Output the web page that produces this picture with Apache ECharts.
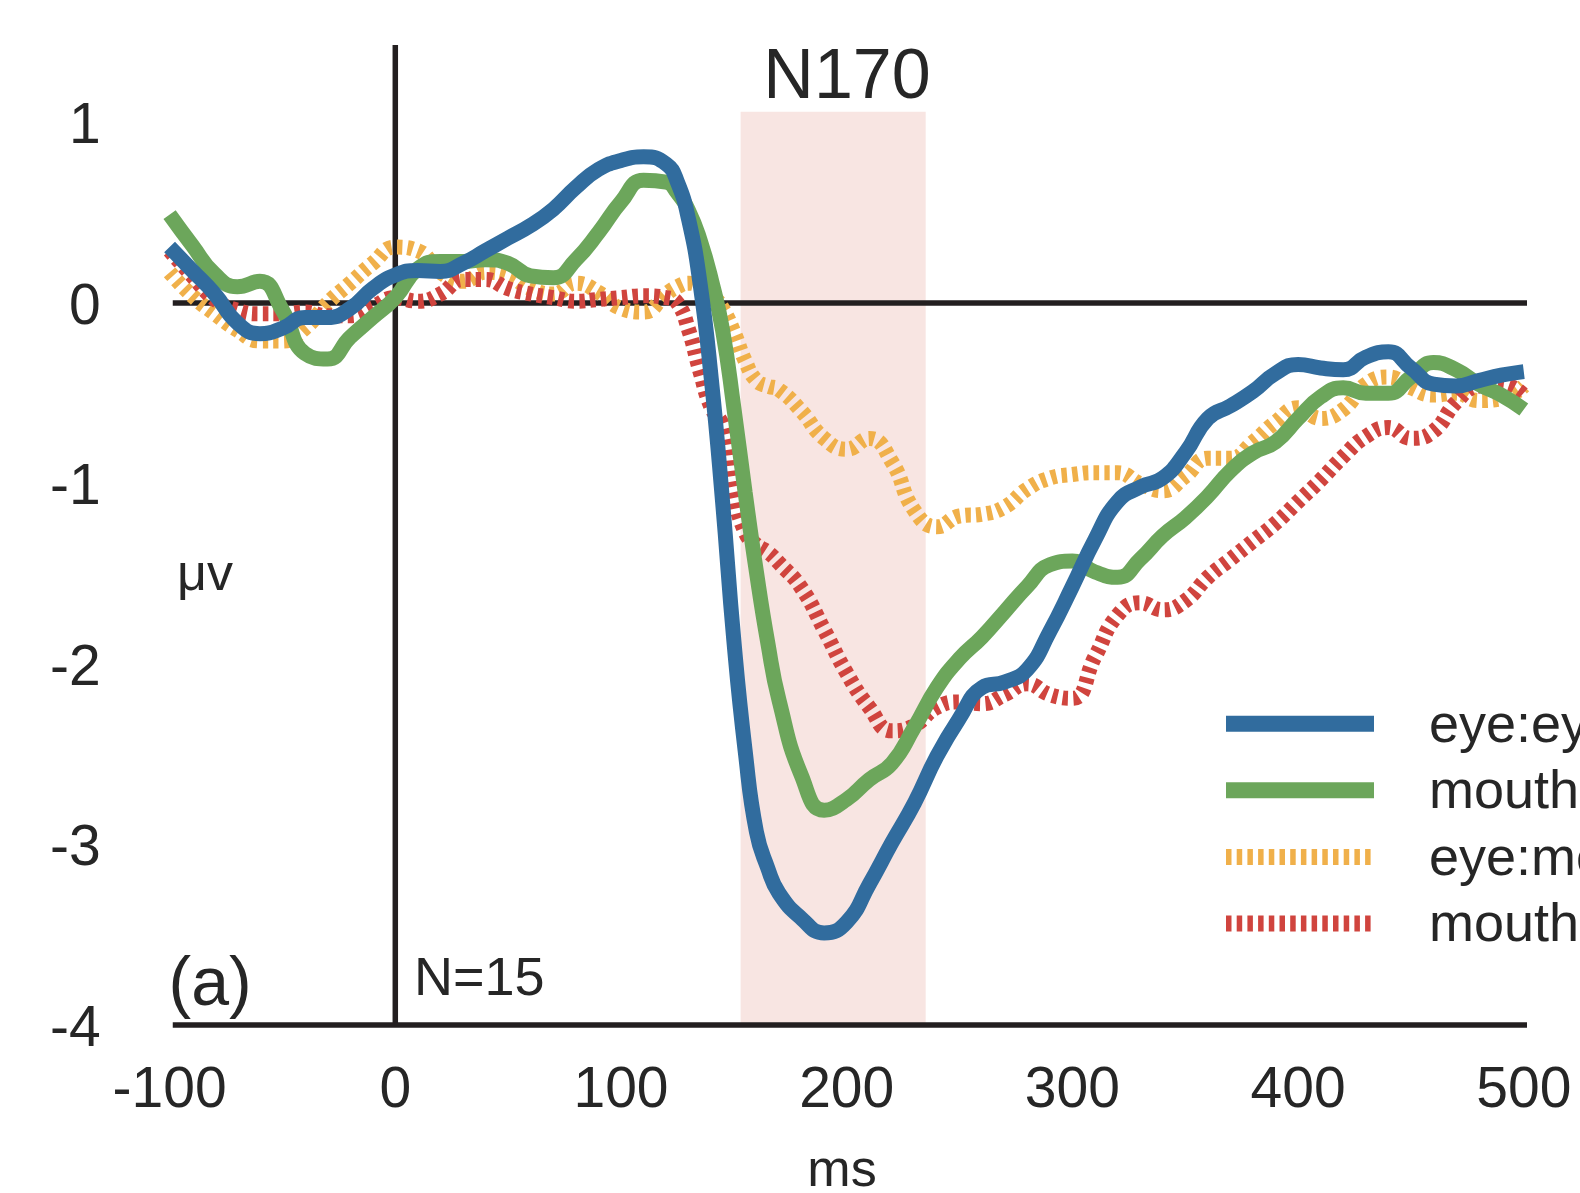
<!DOCTYPE html>
<html>
<head>
<meta charset="utf-8">
<title>N170</title>
<script src="https://cdn.jsdelivr.net/npm/echarts@6.0.0/dist/echarts.min.js"></script>
<style>
    html, body {margin: 0; padding: 0; background: #fff;}
    #main {width: 1580px; height: 1193px;}
</style>
</head>
<body>
<div id="main"></div>
<script>
//时间点 (ms)
var times = [-100, -90, -80, -70, -60, -50, -40, -30, -20, -10, 0, 10, 20, 30, 40, 50, 60, 70, 80, 90, 100, 110, 120,
    125, 130, 135, 140, 145, 150, 155, 160, 165, 170,
    180, 190, 200, 210, 220, 230, 240, 250, 260, 270, 280, 290, 300, 310, 320, 330, 340, 350,
    360, 370, 380, 390, 400, 410, 420, 430, 440, 450, 460, 470, 480, 490, 500];

//eye:eye
var eyeEye = [0.31, 0.18, 0.05, -0.11, -0.17, -0.14, -0.08, -0.08, -0.03, 0.08, 0.155, 0.18, 0.175, 0.22, 0.29, 0.36, 0.43, 0.52, 0.64, 0.74, 0.79, 0.81, 0.77,
    0.67, 0.46, 0.11, -0.42, -1.1, -1.87, -2.48, -2.93, -3.13, -3.27,
    -3.41, -3.49, -3.43, -3.22, -2.99, -2.77, -2.51, -2.30, -2.13, -2.10, -2.03, -1.82, -1.57, -1.31, -1.10, -1.02, -0.97, -0.83,
    -0.64, -0.57, -0.49, -0.39, -0.34, -0.36, -0.37, -0.30, -0.27, -0.36, -0.45, -0.46, -0.43, -0.40, -0.38];

//mouth:mouth
var mouthMouth = [0.49, 0.32, 0.16, 0.09, 0.12, -0.04, -0.28, -0.31, -0.19, -0.08, 0.03, 0.19, 0.23, 0.23, 0.24, 0.22, 0.15, 0.14, 0.24, 0.39, 0.56, 0.68, 0.67,
    0.61, 0.51, 0.35, 0.13, -0.15, -0.58, -1.05, -1.49, -1.88, -2.20,
    -2.62, -2.81, -2.75, -2.64, -2.55, -2.35, -2.13, -1.97, -1.85, -1.71, -1.57, -1.45, -1.43, -1.49, -1.52, -1.42, -1.29, -1.19,
    -1.07, -0.93, -0.83, -0.77, -0.64, -0.52, -0.47, -0.50, -0.50, -0.41, -0.33, -0.37, -0.45, -0.51, -0.59];

//eye:mouth
var eyeMouth = [0.17, 0.04, -0.06, -0.15, -0.21, -0.21, -0.14, 0.00, 0.11, 0.22, 0.31, 0.29, 0.17, 0.12, 0.17, 0.15, 0.08, 0.05, 0.11, 0.06, -0.03, -0.05, 0.05,
    0.09, 0.11, 0.09, 0.05, -0.03, -0.16, -0.32, -0.43, -0.46, -0.48,
    -0.60, -0.75, -0.81, -0.75, -0.88, -1.15, -1.24, -1.18, -1.17, -1.13, -1.03, -0.97, -0.95, -0.94, -0.94, -1.00, -1.04, -0.96,
    -0.86, -0.86, -0.77, -0.66, -0.58, -0.64, -0.59, -0.45, -0.41, -0.47, -0.51, -0.50, -0.54, -0.53, -0.46];

//mouth:eye
var mouthEye = [0.29, 0.15, 0.02, -0.04, -0.06, -0.06, -0.05, -0.07, -0.07, -0.02, 0.03, 0.01, 0.05, 0.13, 0.13, 0.08, 0.05, 0.03, 0.01, 0.02, 0.03, 0.04, 0.03,
    0.0, -0.15, -0.38, -0.58, -0.68, -1.05, -1.27, -1.34, -1.38, -1.44,
    -1.58, -1.81, -2.05, -2.24, -2.37, -2.34, -2.24, -2.21, -2.22, -2.17, -2.11, -2.17, -2.19, -1.96, -1.73, -1.66, -1.70, -1.65,
    -1.52, -1.42, -1.32, -1.22, -1.10, -0.98, -0.85, -0.74, -0.69, -0.75, -0.71, -0.55, -0.46, -0.45, -0.51];

var names = ['eye:eye', 'mouth:mouth', 'eye:mouth', 'mouth:eye'];
var colors = ['#316c9e', '#6ca65b', '#f0b04a', '#d0443e'];

//N170 时间窗
var window170 = [153, 235];

var FONT = '"Liberation Sans", Arial, sans-serif';
var INK = '#262626';
var AXIS = '#231f20';
var DOTS = [5.5, 5.2];

function pairs(ys) {
    var out = [];
    for (var i = 0; i < times.length; i++) {
        out.push([times[i], ys[i]]);
    }
    return out;
}

//参考线 (零线, 0ms线, 底线)
function refLine(data) {
    return {
        type: 'line',
        data: data,
        symbol: 'none',
        silent: true,
        clip: false,
        z: 2,
        lineStyle: {color: AXIS, width: 5.5, cap: 'butt'}
    };
}

function wave(idx, ys, dotted) {
    return {
        name: names[idx],
        type: 'line',
        data: pairs(ys),
        symbol: 'none',
        smooth: 0.5,
        z: 3,
        lineStyle: {color: colors[idx], width: 15, type: dotted ? DOTS : 'solid', cap: 'butt'}
    };
}

//图例 (手动画)
function legendItems() {
    var list = [];
    var ys = [723.7, 790.3, 857, 923.5];
    for (var i = 0; i < 4; i++) {
        list.push({
            type: 'line',
            shape: {x1: 1226, y1: ys[i], x2: 1374, y2: ys[i]},
            style: {stroke: colors[i], lineWidth: 16, lineDash: i > 1 ? DOTS : null}
        });
        list.push({
            type: 'text', x: 1429, y: ys[i] + 3,
            style: {text: names[i], fill: INK, font: '54px ' + FONT, align: 'left', verticalAlign: 'middle'}
        });
    }
    return list;
}

function label(text, x, y, size, align) {
    return {
        type: 'text', x: x, y: y,
        style: {text: text, fill: INK, font: size + 'px ' + FONT, align: align || 'left', verticalAlign: 'middle'}
    };
}

var chart = echarts.init(document.getElementById('main'), null, {renderer: 'canvas'});
chart.setOption({
    animation: false,
    backgroundColor: '#fff',
    grid: {left: 169.6, right: 56.2, top: 44.9, bottom: 168},
    xAxis: {
        type: 'value',
        min: -100, max: 500, interval: 100,
        axisLine: {show: false},
        axisTick: {show: false},
        splitLine: {show: false},
        axisLabel: {fontSize: 57, fontFamily: FONT, color: INK, margin: 38}
    },
    yAxis: {
        type: 'value',
        min: -4, max: 1.43, interval: 1,
        axisLine: {show: false},
        axisTick: {show: false},
        splitLine: {show: false},
        axisLabel: {
            fontSize: 57, fontFamily: FONT, color: INK, margin: 69,
            verticalAlign: 'top', lineHeight: 10,
            formatter: function (v) {
                return Math.abs(v - Math.round(v)) < 1e-6 ? String(Math.round(v)) : '';
            }
        }
    },
    series: [
        {
            type: 'line', data: [], silent: true, z: 1,
            markArea: {
                silent: true,
                itemStyle: {color: '#f8e5e2'},
                data: [[{xAxis: window170[0], yAxis: -4}, {xAxis: window170[1], yAxis: 1.06}]]
            }
        },
        refLine([[-98.6, 0], [501.5, 0]]),
        refLine([[0, -4], [0, 1.43]]),
        refLine([[-98.6, -4], [502.7, -4]]),
        wave(2, eyeMouth, true),
        wave(3, mouthEye, true),
        wave(1, mouthMouth, false),
        wave(0, eyeEye, false)
    ],
    graphic: legendItems().concat([
        label('N170', 847, 79, 70, 'center'),
        label('N=15', 414, 980, 54),
        label('(a)', 168.6, 986, 68),
        label('\u03bcv', 177, 576, 52),
        label('ms', 842, 1172, 52, 'center')
    ])
});
</script>
</body>
</html>
